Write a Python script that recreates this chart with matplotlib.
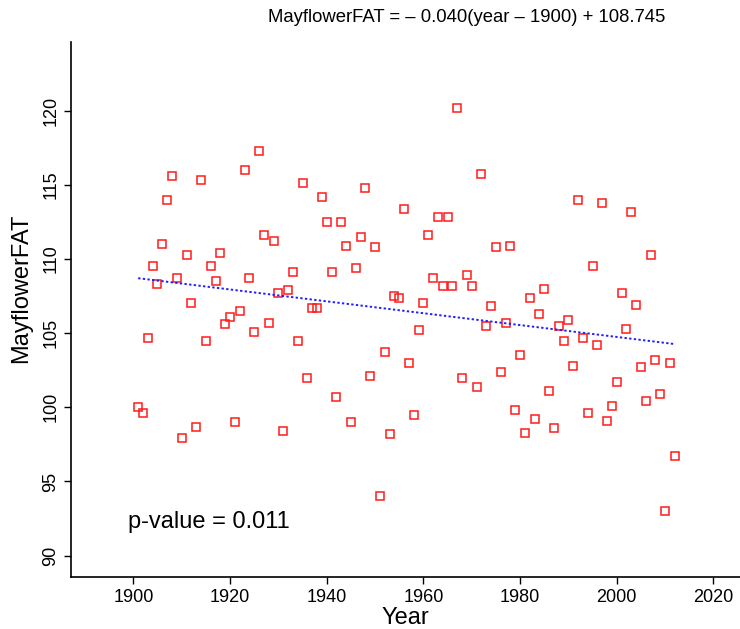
import numpy as np
import matplotlib.pyplot as plt

plt.rcParams['font.family'] = ['Liberation Sans', 'DejaVu Sans']

# yearly values
years = list(range(1901, 2013))
mayflower_fat = [
    100.0, 99.6, 104.7, 109.5, 108.3, 111.0, 114.0, 115.6, 108.7, 97.9,
    110.3, 107.0, 98.7, 115.3, 104.5, 109.5, 108.5, 110.4, 105.6, 106.1,
    99.0, 106.5, 116.0, 108.7, 105.1, 117.3, 111.6, 105.7, 111.2, 107.7,
    98.4, 107.9, 109.1, 104.5, 115.1, 102.0, 106.7, 106.7, 114.2, 112.5,
    109.1, 100.7, 112.5, 110.9, 99.0, 109.4, 111.5, 114.8, 102.1, 110.8,
    94.0, 103.7, 98.2, 107.5, 107.4, 113.4, 103.0, 99.5, 105.2, 107.0,
    111.6, 108.7, 112.8, 108.2, 112.8, 108.2, 120.2, 102.0, 108.9, 108.2,
    101.4, 115.7, 105.5, 106.8, 110.8, 102.4, 105.7, 110.9, 99.8, 103.5,
    98.3, 107.4, 99.2, 106.3, 108.0, 101.1, 98.6, 105.5, 104.5, 105.9,
    102.8, 114.0, 104.7, 99.6, 109.5, 104.2, 113.8, 99.1, 100.1, 101.7,
    107.7, 105.3, 113.2, 106.9, 102.7, 100.4, 110.3, 103.2, 100.9, 93.0,
    103.0, 96.7,
]

slope = -0.040
intercept = 108.745
p_value = 0.011

x_ticks = [1900, 1920, 1940, 1960, 1980, 2000, 2020]
y_ticks = [90, 95, 100, 105, 110, 115, 120]

fig = plt.figure(figsize=(7.4, 6.29), dpi=100)
ax = fig.add_axes([0.0959, 0.0822, 0.9041, 0.8515])

ax.plot(years, mayflower_fat, linestyle='none', marker='s', markersize=5.2,
        markerfacecolor='none', markeredgecolor='#ff1a1a', markeredgewidth=1.1)

xs = np.array([years[0], years[-1]])
ax.plot(xs, slope * (xs - 1900) + intercept, color='#1f1fff',
        linestyle=(0, (1.2, 1.2)), linewidth=1.4)

ax.set_xlim(1887.1, 2025.5)
ax.set_ylim(88.54, 124.65)
ax.set_xticks(x_ticks)
ax.set_yticks(y_ticks)
ax.tick_params(labelsize=13, length=5, width=1.0, direction='out')
for lab in ax.get_yticklabels():
    lab.set_rotation(90)
    lab.set_va('center')

for side in ['top', 'right']:
    ax.spines[side].set_visible(False)
for side in ['left', 'bottom']:
    ax.spines[side].set_linewidth(1.2)

ax.set_xlabel('Year', fontsize=17, labelpad=1)
ax.set_ylabel('MayflowerFAT', fontsize=17)
ax.yaxis.set_label_coords(-0.058, 0.54)

ax.text(1898.9, 92.27, f'p-value = {p_value:.3f}', fontsize=17, va='center', ha='left')

fig.text(467 / 740, 1 - 17 / 629,
         'MayflowerFAT = \u2013 0.040(year \u2013 1900) + 108.745',
         fontsize=13.3, ha='center', va='center')

fig.savefig('out.png', dpi=100)
